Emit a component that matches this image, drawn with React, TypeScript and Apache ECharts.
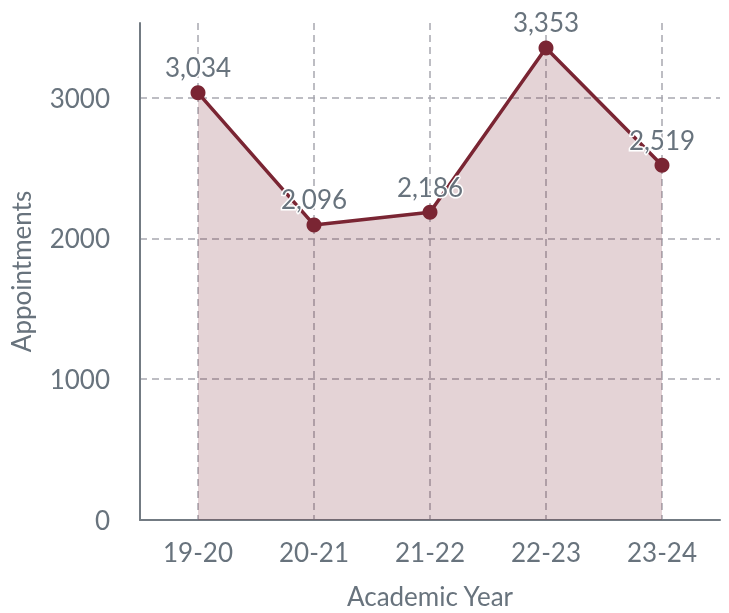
import React, { useEffect, useRef } from "react";
import * as echarts from "echarts";

const categories = ["19-20", "20-21", "21-22", "22-23", "23-24"];
const appointments = [3034, 2096, 2186, 3353, 2519];
const yTicks = [0, 1000, 2000, 3000];

const TEXT = "#68737d";
const LINE = "#7a2533";
const FONT = "Lato";
const FS = 26;

export default function App() {
  const ref = useRef<HTMLDivElement>(null);
  useEffect(() => {
    if (!ref.current) return;
    const chart = echarts.init(ref.current, null, { renderer: "svg" });
    chart.setOption({
      animation: false,
      textStyle: { fontFamily: FONT },
      grid: {
        left: 140,
        right: 9,
        top: 23,
        bottom: 93,
        containLabel: false,
        outerBoundsMode: "none",
      },
      xAxis: {
        type: "category",
        data: categories,
        boundaryGap: true,
        name: "Academic Year",
        nameLocation: "middle",
        nameGap: 63,
        nameTextStyle: { color: TEXT, fontSize: FS, fontFamily: FONT },
        axisLine: { show: true, lineStyle: { color: "#737b83", width: 2 } },
        axisTick: { show: false },
        axisLabel: { color: TEXT, fontSize: FS, fontFamily: FONT, margin: 19 },
        splitLine: {
          show: true,
          alignWithLabel: true,
          lineStyle: { color: "#a8a8b0", type: [7, 5], width: 1.5 },
        },
      },
      yAxis: {
        type: "value",
        min: yTicks[0],
        max: 3530,
        interval: 1000,
        name: "Appointments",
        nameLocation: "middle",
        nameGap: 106,
        nameTextStyle: { color: TEXT, fontSize: FS, fontFamily: FONT },
        axisLine: { show: true, lineStyle: { color: "#737b83", width: 2 } },
        axisTick: { show: false },
        axisLabel: {
          color: TEXT,
          fontSize: FS,
          fontFamily: FONT,
          margin: 30,
          showMaxLabel: false,
          formatter: (v: number) => String(v),
        },
        splitLine: {
          show: true,
          showMaxLine: false,
          lineStyle: { color: "#a8a8b0", type: [7, 5], width: 1.5 },
        },
      },
      series: [
        {
          type: "line",
          data: appointments,
          symbol: "circle",
          symbolSize: 15,
          itemStyle: { color: LINE },
          lineStyle: { color: LINE, width: 3.5 },
          areaStyle: { color: LINE, opacity: 0.2 },
          label: {
            show: true,
            position: "top",
            distance: 5,
            color: TEXT,
            fontSize: FS,
            fontFamily: FONT,
            textBorderColor: "#ffffff",
            textBorderWidth: 3,
            formatter: (p: any) => Number(p.value).toLocaleString("en-US"),
          },
        },
      ],
    });
    return () => chart.dispose();
  }, []);
  return (
    <div
      ref={ref}
      style={{ position: "fixed", left: 0, top: 0, width: 729, height: 613 }}
    />
  );
}
